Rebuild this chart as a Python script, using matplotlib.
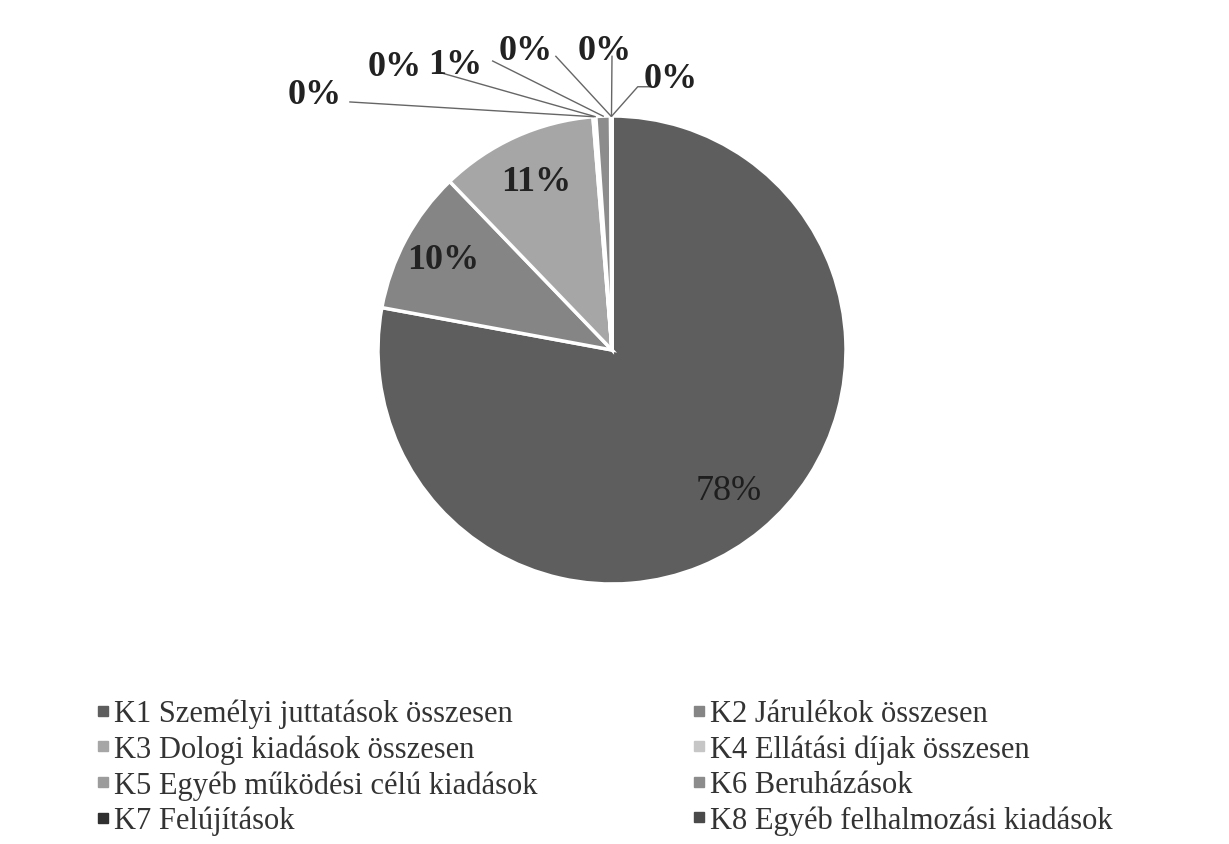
import matplotlib
matplotlib.use("Agg")
import matplotlib.pyplot as plt
from matplotlib.lines import Line2D
import numpy as np

categories = [
    "K1 Személyi juttatások összesen",
    "K2 Járulékok összesen",
    "K3 Dologi kiadások összesen",
    "K4 Ellátási díjak összesen",
    "K5 Egyéb működési célú kiadások",
    "K6 Beruházások",
    "K7 Felújítások",
    "K8 Egyéb felhalmozási kiadások",
    "",
]
values = [77.9, 9.9, 10.9, 0.1, 0.1, 1.0, 0.05, 0.03, 0.02]
pct_labels = ["78%", "10%", "11%", "0%", "0%", "1%", "0%", "0%", "0%"]
colors = ["#5e5e5e", "#858585", "#a6a6a6", "#c6c6c6", "#9c9c9c",
          "#8c8c8c", "#303030", "#4a4a4a", "#6a6a6a"]

# label placement for the small slices (radius units)
small_label_pos = {3: (-1.27, 1.09), 4: (-0.93, 1.21), 5: (-0.67, 1.22),
                   6: (-0.37, 1.28), 7: (-0.03, 1.28), 8: (0.25, 1.16)}
small_leader_start = {3: (-1.12, 1.06), 4: (-0.75, 1.19), 5: (-0.51, 1.235),
                      6: (-0.24, 1.255), 7: (0.0, 1.255), 8: (0.11, 1.125)}

W, H = 1229, 845
fig = plt.figure(figsize=(W / 100, H / 100), dpi=100)
cx, cy, r = 612, 351, 234
ax = fig.add_axes([(cx - r) / W, (H - cy - r) / H, 2 * r / W, 2 * r / H])

wedges, _ = ax.pie(values, colors=colors, startangle=90, counterclock=False,
                   radius=1.0, wedgeprops=dict(edgecolor="white", linewidth=2.5))
ax.set_xlim(-1, 1)
ax.set_ylim(-1, 1)
ax.set_aspect("equal")
ax.axis("off")
for w in wedges:
    w.set_clip_on(False)

font_lbl = dict(family="Liberation Serif", fontsize=26, fontweight="bold", color="#222222")
big_dist = [0.78, 0.82, 0.79]
for i, w in enumerate(wedges):
    ang = np.deg2rad((w.theta1 + w.theta2) / 2)
    if i < 3:
        d = big_dist[i]
        kw = dict(font_lbl)
        if i == 0:
            kw["fontweight"] = "normal"
            kw["color"] = "#1e1e1e"
        ax.text(d * np.cos(ang), d * np.sin(ang), pct_labels[i], ha="center",
                va="center", **kw)
    else:
        lx, ly = small_label_pos[i]
        ax.text(lx, ly, pct_labels[i], ha="center", va="center", clip_on=False, **font_lbl)
        sx, sy = small_leader_start[i]
        ex, ey = 1.0 * np.cos(ang), 1.0 * np.sin(ang)
        if i == 8:
            xs, ys = [sx + 0.05, sx, ex], [sy, sy, ey]
        else:
            xs, ys = [sx, ex], [sy, ey]
        ax.plot(xs, ys, color="#666666", lw=1.0, clip_on=False)

order = [0, 2, 4, 6, 1, 3, 5, 7]
handles = [Line2D([], [], marker="s", linestyle="none", markersize=7,
                  markerfacecolor=colors[i], markeredgecolor=colors[i]) for i in order]
labels = [categories[i] for i in order]
fig.legend(handles, labels, loc="upper left", bbox_to_anchor=(97 / W, 1 - 700 / H),
           ncol=2, frameon=False, prop=dict(family="Liberation Serif", size=22),
           handlelength=0.4, handletextpad=0.15, columnspacing=5.1,
           labelspacing=0.2, borderpad=0, borderaxespad=0, labelcolor="#333333")

fig.savefig("out.png", dpi=100, facecolor="white")
